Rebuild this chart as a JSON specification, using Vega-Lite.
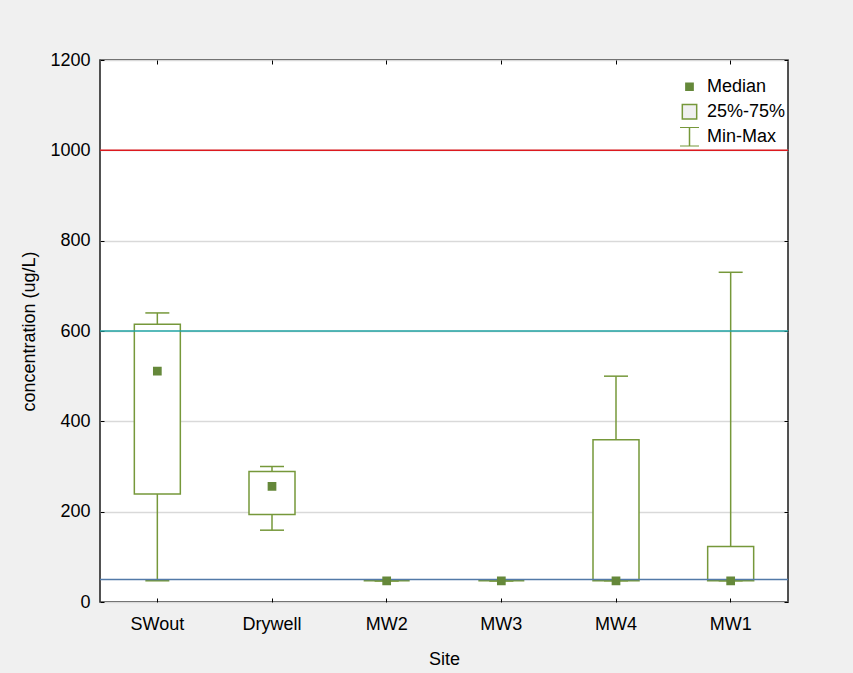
{
  "$schema": "https://vega.github.io/schema/vega-lite/v6.json",
  "width": 688,
  "height": 542,
  "autosize": "none",
  "padding": {"left": 100, "top": 60, "right": 65, "bottom": 71},
  "background": "#f0f0f0",
  "config": {
    "view": {"fill": "white", "stroke": "#1a1a1a", "strokeWidth": 1.5},
    "font": "Liberation Sans",
    "axis": {
      "labelFont": "Liberation Sans", "labelFontSize": 18, "labelColor": "#000",
      "titleFont": "Liberation Sans", "titleFontSize": 18, "titleFontWeight": "normal", "titleColor": "#000",
      "tickColor": "#000", "tickWidth": 1, "tickSize": -4, "domain": false
    }
  },
  "datasets": {
    "box": [
      {"site": "SWout", "min": 47, "q1": 239, "median": 511, "q3": 615, "max": 640},
      {"site": "Drywell", "min": 159, "q1": 194, "median": 256, "q3": 289, "max": 300},
      {"site": "MW2", "min": 47, "q1": 47, "median": 47, "q3": 47, "max": 47},
      {"site": "MW3", "min": 47, "q1": 47, "median": 47, "q3": 47, "max": 47},
      {"site": "MW4", "min": 47, "q1": 47, "median": 47, "q3": 359, "max": 500},
      {"site": "MW1", "min": 47, "q1": 47, "median": 47, "q3": 123, "max": 730}
    ],
    "limits": [
      {"limit": "upper", "value": 1000},
      {"limit": "mid", "value": 600},
      {"limit": "low", "value": 50}
    ]
  },
  "layer": [
    {
      "data": {"name": "box"},
      "mark": {"type": "bar", "fill": "white", "stroke": "#76983a", "strokeWidth": 1.5, "width": 46},
      "encoding": {
        "x": {
          "field": "site", "type": "nominal", "sort": null,
          "scale": {"domain": ["SWout", "Drywell", "MW2", "MW3", "MW4", "MW1"], "paddingInner": 0, "paddingOuter": 0},
          "axis": {"title": "Site", "labelAngle": 0, "labelPadding": 17, "titlePadding": 17, "grid": false}
        },
        "y": {
          "field": "q1", "type": "quantitative",
          "scale": {"domain": [0, 1200], "nice": false, "zero": true},
          "axis": {"title": "concentration (ug/L)", "format": "d", "values": [0, 200, 400, 600, 800, 1000, 1200], "grid": true, "gridColor": "#d9d9d9", "gridWidth": 1.5, "labelPadding": 14, "titlePadding": 11}
        },
        "y2": {"field": "q3"}
      }
    },
    {
      "data": {"name": "box"},
      "mark": {"type": "rule", "stroke": "#76983a", "strokeWidth": 1.5},
      "encoding": {
        "x": {"field": "site", "type": "nominal", "sort": null, "axis": null},
        "y": {"field": "min", "type": "quantitative", "axis": null},
        "y2": {"field": "q1"}
      }
    },
    {
      "data": {"name": "box"},
      "mark": {"type": "rule", "stroke": "#76983a", "strokeWidth": 1.5},
      "encoding": {
        "x": {"field": "site", "type": "nominal", "sort": null, "axis": null},
        "y": {"field": "q3", "type": "quantitative", "axis": null},
        "y2": {"field": "max"}
      }
    },
    {
      "data": {"name": "box"},
      "mark": {"type": "tick", "orient": "horizontal", "size": 24, "thickness": 1.5, "color": "#76983a", "opacity": 1},
      "encoding": {
        "x": {"field": "site", "type": "nominal", "sort": null, "axis": null},
        "y": {"field": "min", "type": "quantitative", "axis": null}
      }
    },
    {
      "data": {"name": "box"},
      "mark": {"type": "tick", "orient": "horizontal", "size": 24, "thickness": 1.5, "color": "#76983a", "opacity": 1},
      "encoding": {
        "x": {"field": "site", "type": "nominal", "sort": null, "axis": null},
        "y": {"field": "max", "type": "quantitative", "axis": null}
      }
    },
    {
      "data": {"name": "limits"},
      "mark": {"type": "rule", "strokeWidth": 1.5},
      "encoding": {
        "y": {"field": "value", "type": "quantitative", "axis": null},
        "color": {
          "field": "limit", "type": "nominal",
          "scale": {"domain": ["upper", "mid", "low"], "range": ["#dc1a1f", "#1fa3a3", "#5279a8"]},
          "legend": null
        }
      }
    },
    {
      "data": {"name": "box"},
      "mark": {"type": "point", "opacity": 1, "strokeWidth": 1.5},
      "encoding": {
        "x": {"field": "site", "type": "nominal", "sort": null,
          "axis": {"orient": "top", "labels": false, "title": null, "grid": false, "ticks": true}},
        "y": {"field": "median", "type": "quantitative",
          "axis": {"orient": "right", "labels": false, "title": null, "grid": false, "values": [0, 200, 400, 600, 800, 1000, 1200]}},
        "shape": {
          "datum": "Median", "type": "nominal",
          "scale": {"domain": ["Median", "25%-75%", "Min-Max"], "range": ["square", "square", "M-1,-1H1M0,-1V1M-1,1H1"]},
          "legend": {
            "orient": "none", "legendX": 579, "legendY": 17, "title": null, "padding": 0,
            "labelFont": "Liberation Sans", "labelFontSize": 18, "labelColor": "#000", "labelOffset": 7,
            "rowPadding": 5, "clipHeight": 19.5, "symbolStrokeWidth": 1.5, "symbolOpacity": 1
          }
        },
        "fill": {
          "datum": "Median", "type": "nominal",
          "scale": {"domain": ["Median", "25%-75%", "Min-Max"], "range": ["#65883a", "#f0f0f0", "transparent"]}
        },
        "stroke": {
          "datum": "Median", "type": "nominal",
          "scale": {"domain": ["Median", "25%-75%", "Min-Max"], "range": ["#65883a", "#76983a", "#76983a"]}
        },
        "size": {
          "datum": "Median", "type": "nominal",
          "scale": {"domain": ["Median", "25%-75%", "Min-Max"], "range": [52, 361, 361]}
        }
      }
    }
  ],
  "resolve": {"axis": {"x": "independent", "y": "independent"}}
}
